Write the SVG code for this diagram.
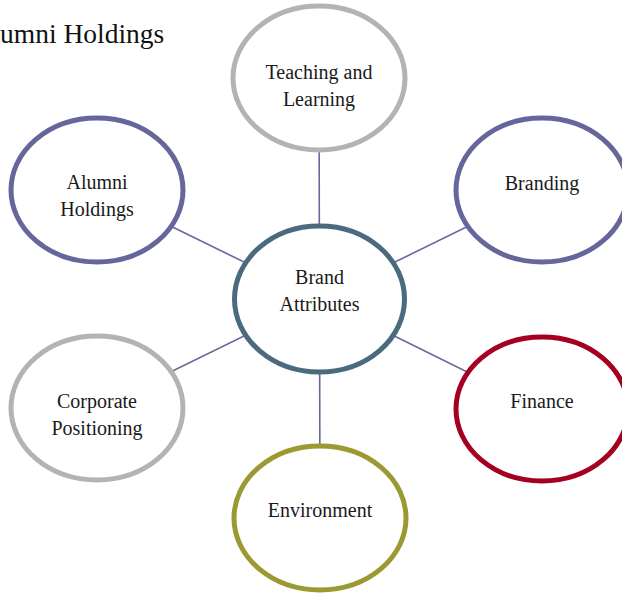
<svg xmlns="http://www.w3.org/2000/svg" width="622" height="593" viewBox="0 0 622 593">
<style>
.node{fill:#ffffff;stroke-width:5}
.gray{stroke:#b3b3b3}
.purple{stroke:#67669c}
.center{stroke:#4a6a7e}
.red{stroke:#a50021}
.olive{stroke:#9b9a32}
.lbl{font-family:"Liberation Serif","Times New Roman",serif;font-size:20px;fill:#1a1a1a;text-anchor:middle}
.conn line{stroke:#6a659c;stroke-width:1.6}
</style>
<rect width="622" height="593" fill="#ffffff"/>
<text x="0" y="43" font-family="Liberation Serif, Times New Roman, serif" font-size="27.5" fill="#111">umni Holdings</text>
<g id="connectors" class="conn">
<line x1="319.5" y1="299" x2="319" y2="78"/>
<line x1="319.5" y1="299" x2="97" y2="190"/>
<line x1="319.5" y1="299" x2="542" y2="190"/>
<line x1="319.5" y1="299" x2="97" y2="408"/>
<line x1="319.5" y1="299" x2="542" y2="409"/>
<line x1="319.5" y1="299" x2="320" y2="518"/>
</g>
<g id="teaching">
<ellipse class="node gray" cx="319" cy="78" rx="86" ry="72"/>
<text class="lbl" x="319" y="79">Teaching and</text>
<text class="lbl" x="319" y="106">Learning</text>
</g>
<g id="alumni">
<ellipse class="node purple" cx="97" cy="190" rx="86" ry="72"/>
<text class="lbl" x="97" y="189">Alumni</text>
<text class="lbl" x="97" y="216">Holdings</text>
</g>
<g id="branding">
<ellipse class="node purple" cx="542" cy="190" rx="86" ry="72"/>
<text class="lbl" x="542" y="190">Branding</text>
</g>
<g id="brand-attributes">
<ellipse class="node center" cx="319.5" cy="299" rx="85" ry="73"/>
<text class="lbl" x="319.5" y="284">Brand</text>
<text class="lbl" x="319.5" y="311">Attributes</text>
</g>
<g id="corporate">
<ellipse class="node gray" cx="97" cy="408" rx="86" ry="72"/>
<text class="lbl" x="97" y="408">Corporate</text>
<text class="lbl" x="97" y="435">Positioning</text>
</g>
<g id="finance">
<ellipse class="node red" cx="542" cy="409" rx="86" ry="72"/>
<text class="lbl" x="542" y="408">Finance</text>
</g>
<g id="environment">
<ellipse class="node olive" cx="320" cy="518" rx="86" ry="72"/>
<text class="lbl" x="320" y="517">Environment</text>
</g>
</svg>
